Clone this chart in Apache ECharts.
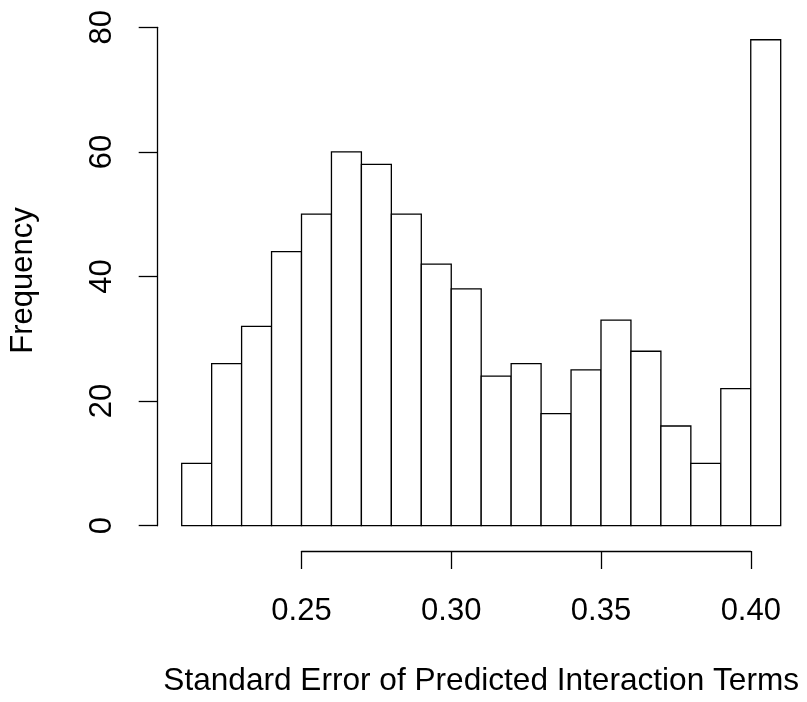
<!DOCTYPE html>
<html>
<head>
<meta charset="utf-8">
<script src="https://cdn.jsdelivr.net/npm/echarts@6/dist/echarts.min.js"></script>
<style>
html,body{margin:0;padding:0;background:#fff;}
#chart{width:807px;height:702px;}
</style>
</head>
<body>
<div id="chart"></div>
<script>
// Histogram bins (left edges, right edges) and counts
const binLeft  = [0.21,0.22,0.23,0.24,0.25,0.26,0.27,0.28,0.29,0.30,0.31,0.32,0.33,0.34,0.35,0.36,0.37,0.38,0.39,0.40];
const binRight = [0.22,0.23,0.24,0.25,0.26,0.27,0.28,0.29,0.30,0.31,0.32,0.33,0.34,0.35,0.36,0.37,0.38,0.39,0.40,0.41];
const counts   = [10,26,32,44,50,60,58,50,42,38,24,26,18,25,33,28,16,10,22,78];
const xTickValues = [0.25,0.30,0.35,0.40];
const yTickValues = [0,20,40,60,80];
const xTitle = 'Standard Error of Predicted Interaction Terms';
const yTitle = 'Frequency';

const FONT = '"Liberation Sans", Arial, Helvetica, sans-serif';
const chart = echarts.init(document.getElementById('chart'), null, {renderer:'canvas'});

const data = binLeft.map((l,i)=>[l, binRight[i], counts[i]]);

const option = {
  animation:false,
  backgroundColor:'#fff',
  grid:[
    {left:181.7, right:807-780.7, top:27.3, bottom:702-530.7},
    {left:301.5, right:807-750.8, top:27.3, bottom:702-551}
  ],
  xAxis:[
    {type:'value', gridIndex:0, min:0.21, max:0.41,
     axisLine:{show:false}, axisTick:{show:false}, axisLabel:{show:false}, splitLine:{show:false},
     name:xTitle, nameLocation:'middle', nameGap:139.3,
     nameTextStyle:{fontFamily:FONT, fontSize:31.6, color:'#000'}},
    {type:'value', gridIndex:1, min:0.25, max:0.40, interval:0.05,
     axisLine:{show:true, lineStyle:{color:'#000', width:1.3}},
     axisTick:{show:true, length:18, lineStyle:{color:'#000', width:1.3}},
     axisLabel:{show:true, margin:44.5, fontFamily:FONT, fontSize:31, color:'#000',
       formatter:v=>{const m=xTickValues.find(t=>Math.abs(t-v)<1e-9); return (m!==undefined?m:v).toFixed(2);}},
     splitLine:{show:false}}
  ],
  yAxis:[
    {type:'value', gridIndex:0, min:0, max:80, interval:20, offset:24,
     axisLine:{show:true, lineStyle:{color:'#000', width:1.3}},
     axisTick:{show:true, length:19, lineStyle:{color:'#000', width:1.3}},
     axisLabel:{show:true, rotate:90, margin:39.5, fontFamily:FONT, fontSize:31, color:'#000',
       formatter:v=>String(v)},
     splitLine:{show:false},
     name:yTitle, nameLocation:'middle', nameGap:118.6,
     nameTextStyle:{fontFamily:FONT, fontSize:31, color:'#000', padding:[0,8,0,0]}},
    {type:'value', gridIndex:1, min:0, max:1, show:false}
  ],
  series:[{
    type:'custom',
    xAxisIndex:0, yAxisIndex:0,
    data:data,
    renderItem:function(params, api){
      const p0 = api.coord([api.value(0), api.value(2)]);
      const p1 = api.coord([api.value(1), 0]);
      return {
        type:'rect',
        shape:{x:p0[0], y:p0[1], width:p1[0]-p0[0], height:p1[1]-p0[1]},
        style:{fill:'#fff', stroke:'#000', lineWidth:1.3}
      };
    }
  }]
};
chart.setOption(option);
</script>
</body>
</html>
